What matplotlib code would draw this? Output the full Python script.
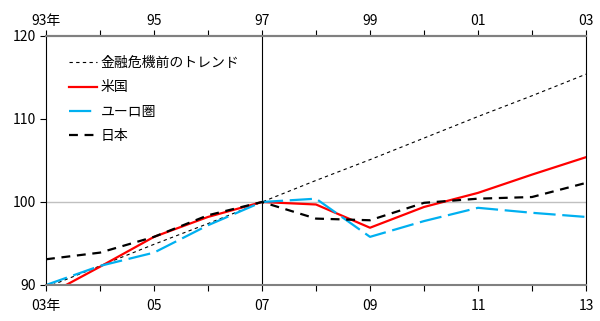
import numpy as np
import matplotlib.pyplot as plt

plt.rcParams['font.family'] = ['Noto Sans CJK JP', 'DejaVu Sans']

years = np.arange(2003, 2014)
trend = [89.7, 92.3, 94.9, 97.4, 100.0, 102.6, 105.1, 107.7, 110.3, 112.8, 115.4]
us = [88.7, 92.2, 95.8, 98.2, 100.0, 99.7, 96.9, 99.4, 101.1, 103.3, 105.4]
euro = [90.0, 92.3, 93.9, 97.2, 100.0, 100.4, 95.8, 97.7, 99.3, 98.7, 98.2]
japan = [93.1, 93.9, 95.8, 98.4, 100.0, 98.0, 97.8, 99.9, 100.4, 100.6, 102.3]

bottom_labels = ['03年', '05', '07', '09', '11', '13']
top_labels = ['93年', '95', '97', '99', '01', '03']
label_pos = [2003, 2005, 2007, 2009, 2011, 2013]

fig = plt.figure(figsize=(6, 3.21), dpi=100)
ax = fig.add_axes([46/600, 36/321, 540/600, 249/321])

ax.axhline(100, color='#c0c0c0', lw=1, zorder=1)
ax.axvline(2007, color='black', lw=0.8, zorder=1)

ax.plot(years, trend, color='black', lw=0.8, dashes=(3, 3), label='金融危機前のトレンド')
ax.plot(years, us, color='#ff0000', lw=1.6, label='米国')
ax.plot(years, euro, color='#00b0f0', lw=1.6, dashes=(10, 3), label='ユーロ圏')
ax.plot(years, japan, color='black', lw=1.6, dashes=(4, 3), label='日本')

ax.set_xlim(2003, 2013)
ax.set_ylim(90, 120)
ax.set_yticks([90, 100, 110, 120])
ax.set_xticks(years)
ax.set_xticklabels([bottom_labels[label_pos.index(y)] if y in label_pos else '' for y in years])
ax.tick_params(axis='both', labelsize=10, length=4, width=0.8, direction='out', pad=3)
ax.tick_params(axis='x', pad=6)

top = ax.secondary_xaxis('top')
top.set_xticks(years)
top.set_xticklabels([top_labels[label_pos.index(y)] if y in label_pos else '' for y in years])
top.tick_params(labelsize=10, length=4, width=0.8, direction='out', pad=2)
top.spines['top'].set_color('#808080')
top.spines['top'].set_linewidth(1.5)

ax.spines['bottom'].set_color('#808080')
ax.spines['bottom'].set_linewidth(1.5)
ax.spines['top'].set_color('#808080')
ax.spines['top'].set_linewidth(1.5)
ax.spines['left'].set_linewidth(0.8)
ax.spines['right'].set_linewidth(0.8)

ax.legend(loc='upper left', frameon=False, fontsize=10, handlelength=2.0,
          handletextpad=0.25, labelspacing=0.75, bbox_to_anchor=(0.02, 0.97))

fig.savefig('out.png', dpi=100)
